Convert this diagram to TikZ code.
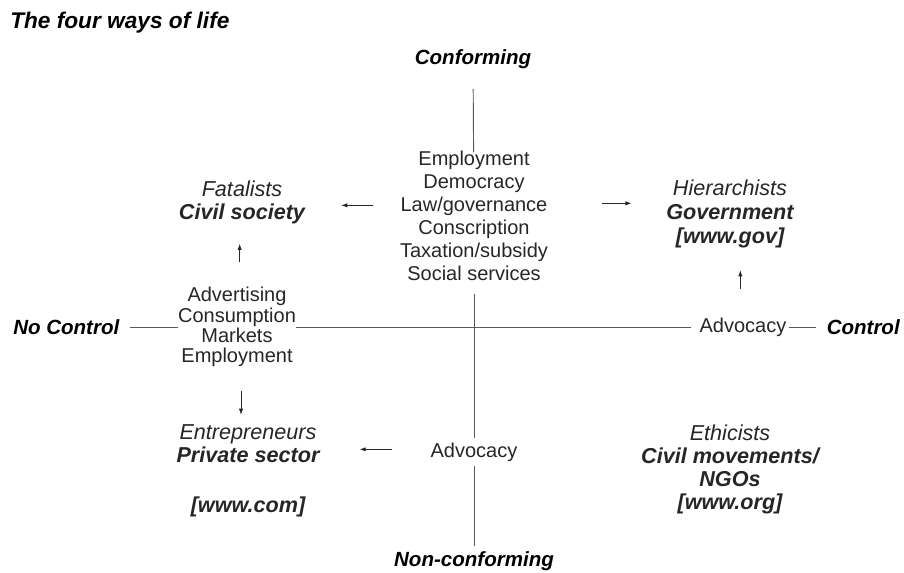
\documentclass[tikz,border=0pt]{standalone}
\usepackage{fontspec}
\setmainfont{Liberation Sans}
\usetikzlibrary{arrows.meta}
\tikzset{lbl/.style = {font = \fontsize{15}{#1}\selectfont,text = black!85,align = center,inner sep = 0pt},
lbl/.default = 17.25,
quad/.style = {lbl,font = \fontsize{16.2}{#1}\selectfont},
quad/.default = 17.25,
key/.style = {font = \fontsize{15.4}{18}\selectfont\bfseries\itshape,text = black,align = center,inner sep = 0pt},
axis/.style = {draw = black!65,line width = .7pt},
arr/.style = {-{Latex[length = 4.5pt,width = 3.2pt]},line width = .5pt,draw = black!85}}

\begin{document}
\begin{tikzpicture}[x = .75pt,y = -.75pt]
\useasboundingbox (0,0) rectangle (904,573);

\node[key,anchor = west,font = \fontsize{17}{20}\selectfont\bfseries\itshape] (title) at (10,23) {The four ways of life};

\node[key] (conf) at (473,59) {Conforming};
\node[key] (nonconf) at (474,561) {Non-conforming};
\node[key,anchor = west] (nocon) at (13,327) {No Control};
\node[key,anchor = east] (con) at (900,327) {Control};

\node[lbl] (centre) at (474,216) {Employment\\ Democracy\\ Law/governance\\ Conscription\\ Taxation/subsidy\\ Social services};
\node[lbl = 15.2] (mkts) at (237,327) {Advertising\\ Consumption\\ Markets\\ Employment};
\node[lbl] (advr) at (743,327) {Advocacy};
\node[lbl,inner sep = 3.5pt] (advb) at (474,452) {Advocacy};

\node[quad] (fatal) at (242,202) {{\itshape Fatalists}\\ {\bfseries\itshape Civil society}};
\node[quad = 18] (hier) at (730,214) {{\itshape Hierarchists}\\ {\bfseries\itshape Government}\\ {\bfseries\itshape [www.gov]}};
\node[quad] (entre) at (248,471) {{\itshape Entrepreneurs}\\ {\bfseries\itshape Private sector}\\[20pt] {\bfseries\itshape [www.com]}};
\node[quad] (ethic) at (730,469) {{\itshape Ethicists}\\ {\bfseries\itshape Civil movements/}\\ {\bfseries\itshape NGOs}\\ {\bfseries\itshape [www.org]}};

% the two axes
\draw[axis,shorten <= 15pt,shorten >= -1pt] (conf) -- (centre);
\draw[axis,shorten <= 10pt] (centre) -- (advb);
\draw[axis,shorten >= 4pt] (advb) -- (nonconf);
\draw[axis,shorten <= 7.5pt] (nocon) -- (mkts);
\draw[axis,shorten >= 6pt] (mkts) -- (advr);
\draw[axis,shorten <= 2pt,shorten >= 8pt] (advr) -- (con);

% movements between the quadrants
\draw[arr,shorten <= 20pt,shorten >= 27pt] ([yshift = 8pt]centre.west) -- ([yshift = 8pt]centre.west -| fatal.east);
\draw[arr,shorten <= 40.5pt,shorten >= 26pt] ([yshift = 9.5pt]centre.east) -- ([yshift = 9.5pt]centre.east -| hier.west);
\draw[arr,shorten <= 19pt,shorten >= 15pt] ([xshift = 2pt]mkts.north) -- ([xshift = 2pt]mkts.north |- fatal.south);
\draw[arr,shorten <= 18pt,shorten >= 7.5pt] ([xshift = 3pt]mkts.south) -- ([xshift = 3pt]mkts.south |- entre.north);
\draw[arr,shorten <= 21.5pt,shorten >= 16.5pt] ([xshift = -2pt]advr.north) -- ([xshift = -2pt]advr.north |- hier.south);
\draw[arr,shorten <= 25.5pt,shorten >= 30pt] ([yshift = 2pt]advb.west) -- ([yshift = 2pt]advb.west -| entre.east);
\end{tikzpicture}
\end{document}
